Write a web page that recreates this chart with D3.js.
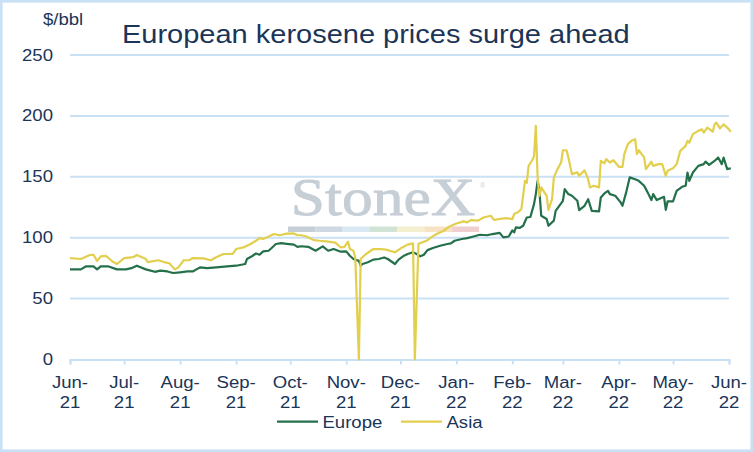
<!DOCTYPE html>
<html><head><meta charset="utf-8">
<script src="https://cdn.jsdelivr.net/npm/d3@7"></script>
<style>html,body{margin:0;padding:0;background:#fff;} svg{display:block;font-family:"Liberation Sans",Arial,sans-serif;}</style>
</head><body><svg id="c" width="753" height="452"></svg>
<script>
const titleText = "European kerosene prices surge ahead";
const unitText = "$/bbl";
const seriesNames = ["Europe", "Asia"];
const monthTicks = ["2021-06-01","2021-07-01","2021-08-01","2021-09-01","2021-10-01","2021-11-01","2021-12-01","2022-01-01","2022-02-01","2022-03-01","2022-04-01","2022-05-01","2022-06-01"];
const monthLabels = ["Jun-","Jul-","Aug-","Sep-","Oct-","Nov-","Dec-","Jan-","Feb-","Mar-","Apr-","May-","Jun-"];
const yearLabels = ["21","21","21","21","21","21","21","22","22","22","22","22","22"];
const yTicks = [0, 50, 100, 150, 200, 250];

const europeDates = ["2021-06-01","2021-06-07","2021-06-10","2021-06-14","2021-06-16","2021-06-18","2021-06-22","2021-06-27","2021-07-02","2021-07-05",
"2021-07-08","2021-07-13","2021-07-18","2021-07-21","2021-07-25","2021-07-28","2021-08-01","2021-08-05","2021-08-08","2021-08-10",
"2021-08-12","2021-08-16","2021-08-21","2021-08-27","2021-09-01","2021-09-06","2021-09-07","2021-09-10","2021-09-12","2021-09-14",
"2021-09-16","2021-09-19","2021-09-21","2021-09-23","2021-09-26","2021-09-29","2021-10-03","2021-10-05","2021-10-07","2021-10-11",
"2021-10-15","2021-10-19","2021-10-22","2021-10-25","2021-10-29","2021-11-01","2021-11-03","2021-11-05","2021-11-08","2021-11-09",
"2021-11-10","2021-11-13","2021-11-16","2021-11-19","2021-11-22","2021-11-24","2021-11-28","2021-11-30","2021-12-03","2021-12-05",
"2021-12-08","2021-12-10","2021-12-12","2021-12-14","2021-12-16","2021-12-19","2021-12-23","2021-12-27","2021-12-29","2021-12-31",
"2022-01-04","2022-01-07","2022-01-10","2022-01-14","2022-01-18","2022-01-21","2022-01-25","2022-01-27","2022-01-30","2022-02-01",
"2022-02-02","2022-02-03","2022-02-05","2022-02-07","2022-02-09","2022-02-11","2022-02-13","2022-02-14","2022-02-15","2022-02-16",
"2022-02-17","2022-02-20","2022-02-21","2022-02-24","2022-02-25","2022-02-27","2022-03-01","2022-03-02","2022-03-04","2022-03-06",
"2022-03-09","2022-03-10","2022-03-13","2022-03-15","2022-03-17","2022-03-21","2022-03-22","2022-03-24","2022-03-26","2022-03-27",
"2022-03-30","2022-04-02","2022-04-03","2022-04-05","2022-04-07","2022-04-10","2022-04-12","2022-04-15","2022-04-17","2022-04-19",
"2022-04-20","2022-04-22","2022-04-26","2022-04-27","2022-04-28","2022-05-01","2022-05-03","2022-05-06","2022-05-08","2022-05-09",
"2022-05-10","2022-05-12","2022-05-15","2022-05-18","2022-05-19","2022-05-21","2022-05-24","2022-05-26","2022-05-28","2022-05-29",
"2022-05-31","2022-06-02"];
const europeValues = [74,74,76.5,76.5,74,76.5,76.5,74,74,75,
77,74,72,73,72.3,71,71.6,72.3,72.3,74,
75.6,75,75.6,76.5,77,78.4,82.5,85,87,86,
88.8,89.3,92,94.8,95.6,95,94.3,92.5,93,92.5,
89.3,92.9,89.3,90.7,88.5,88.8,85.2,82.5,81,77,
78.4,79.8,82,82.5,83.8,82.5,78.4,82,85.2,86.6,
88,86.6,84.7,86,89.8,91.5,93.4,94.8,95.4,97.5,
98.9,99.7,100.8,102.4,102,103,104,100.3,101,106,
104.4,108.5,108,109.8,116.6,117,127.6,135.8,146.7,138.5,
118,115.3,109.8,114,122,126.2,130.3,139.9,135.8,134.4,
130.3,122.7,126.2,131.6,122,121.6,133,136.3,138.5,135.8,
134.4,129,126.2,137,149.5,148,146.7,142.6,137,130.9,
135.8,130.9,133.6,122.9,129.8,129.8,138.5,141.8,142.6,153.5,
146.7,153.5,159,160.4,162.5,159.8,163,165.8,160.4,165.8,
156.3,157];

const asiaDates = ["2021-06-01","2021-06-07","2021-06-12","2021-06-14","2021-06-16","2021-06-18","2021-06-21","2021-06-25","2021-06-27","2021-07-01",
"2021-07-06","2021-07-08","2021-07-13","2021-07-14","2021-07-20","2021-07-23","2021-07-26","2021-07-29","2021-07-31","2021-08-03",
"2021-08-06","2021-08-08","2021-08-14","2021-08-18","2021-08-21","2021-08-25","2021-08-30","2021-09-01","2021-09-05","2021-09-09",
"2021-09-12","2021-09-14","2021-09-16","2021-09-20","2021-09-22","2021-09-25","2021-09-29","2021-10-03","2021-10-05","2021-10-07",
"2021-10-10","2021-10-14","2021-10-17","2021-10-21","2021-10-26","2021-10-29","2021-10-31","2021-11-02","2021-11-03","2021-11-05",
"2021-11-06","2021-11-08","2021-11-09","2021-11-10","2021-11-12","2021-11-16","2021-11-20","2021-11-23","2021-11-28","2021-12-02",
"2021-12-05","2021-12-08","2021-12-09","2021-12-11","2021-12-13","2021-12-16","2021-12-18","2021-12-21","2021-12-25","2021-12-28",
"2022-01-01","2022-01-05","2022-01-07","2022-01-09","2022-01-13","2022-01-16","2022-01-20","2022-01-22","2022-01-25","2022-01-29",
"2022-02-01","2022-02-02","2022-02-04","2022-02-06","2022-02-08","2022-02-09","2022-02-10","2022-02-12","2022-02-13","2022-02-14",
"2022-02-15","2022-02-16","2022-02-17","2022-02-20","2022-02-21","2022-02-23","2022-02-24","2022-02-26","2022-02-28","2022-03-01",
"2022-03-03","2022-03-04","2022-03-06","2022-03-09","2022-03-10","2022-03-13","2022-03-15","2022-03-16","2022-03-18","2022-03-21",
"2022-03-22","2022-03-24","2022-03-25","2022-03-27","2022-03-29","2022-04-01","2022-04-03","2022-04-04","2022-04-06","2022-04-08",
"2022-04-10","2022-04-11","2022-04-12","2022-04-15","2022-04-16","2022-04-19","2022-04-20","2022-04-23","2022-04-25","2022-04-27",
"2022-04-28","2022-05-01","2022-05-03","2022-05-05","2022-05-08","2022-05-09","2022-05-10","2022-05-12","2022-05-15","2022-05-17",
"2022-05-18","2022-05-20","2022-05-23","2022-05-24","2022-05-25","2022-05-27","2022-05-29","2022-05-31","2022-06-02"];
const asiaValues = [83.3,82.5,85.8,86,81,84.6,85,80,78.4,83.3,
84,85.8,82.5,80,81.5,80,79,74,75.6,81.5,
81.5,83.3,83,81.5,84,86.6,86.6,90.7,92,94.8,
97.5,99.7,99,101.6,103,102,103.4,103.5,102,102,
101,98,97.5,97,96,92,92.5,96.7,90.7,89.3,
84,0,82.5,84,86.6,90.7,90.7,90.2,88,92,
94.3,95.3,0,95,96,98,100.3,103,105.7,109,
111.7,113.4,112.6,114.5,114,116.6,118,114.5,115.5,116,
115.3,119.4,120.8,123.5,146.7,145,159,163.6,167,191.8,
149.5,134.4,141.3,134.4,122.9,131.6,149.5,156.3,161.7,171.8,
171.8,166,152.2,153.6,150.8,155.3,148,141.3,142.6,141.3,
163,161,164.5,161.7,163.6,158.2,158.2,168.6,176.8,179.5,
180.9,168.6,171.8,166,156.3,162.5,159,160.4,160.4,150.8,
154.9,157,160.4,171.3,175.4,179.5,178,185,187.7,189,
186.3,190.4,187,193,194.5,189.8,193,190.4,187];

const parse = d3.timeParse("%Y-%m-%d");
const europe = europeDates.map((d, i) => ({date: parse(d), value: europeValues[i]}));
const asia = asiaDates.map((d, i) => ({date: parse(d), value: asiaValues[i]}));

const textColor = "#1a3558";
const gridColor = "#c9e1f5";
const colors = {Europe: "#24704b", Asia: "#e2cf4d"};
const SX = 1.16;

const svg = d3.select("#c");
svg.append("rect").attr("x", 1.3).attr("y", 1.3).attr("width", 750.4).attr("height", 449.4)
  .attr("fill", "#fff").attr("stroke", gridColor).attr("stroke-width", 2.6);

const x = d3.scaleTime().domain([parse(monthTicks[0]), parse(monthTicks[monthTicks.length - 1])]).range([70, 729]);
const y = d3.scaleLinear().domain([0, 250]).range([359.5, 55]);

function stretchedText(g, tx, ty, txt, size, anchor) {
  return g.append("text").attr("transform", `translate(${tx},${ty}) scale(${SX},1)`)
    .attr("text-anchor", anchor).attr("font-size", size).attr("fill", textColor).text(txt);
}

// gridlines
svg.append("g").selectAll("line").data(yTicks.filter(v => v > 0)).join("line")
  .attr("x1", 70).attr("x2", 729).attr("y1", d => y(d)).attr("y2", d => y(d))
  .attr("stroke", gridColor).attr("stroke-width", 2);

// y labels
const yl = svg.append("g");
yTicks.forEach(v => stretchedText(yl, 53, y(v) + 5.5, String(v), 16, "end"));

// unit + title
stretchedText(svg, 43, 24.5, unitText, 16, "start");
stretchedText(svg, 122, 43, titleText, 25, "start");

// watermark
const wm = svg.append("g");
stretchedText(wm, 383, 215, "StoneX", 53, "middle").attr("fill", "#c6ced6")
  .attr("stroke", "#c6ced6").attr("stroke-width", 0.8)
  .attr("font-family", "'Liberation Serif','DejaVu Serif',serif");
wm.append("text").attr("x", 480).attr("y", 188).attr("font-size", 7).attr("fill", "#c9d1d8").text("®");
const wmColors = ["#c5ced6", "#cdd8e3", "#dae8f4", "#d0e3d5", "#f3efcf", "#f7e2c4", "#f0cfd0"];
wm.selectAll("rect").data(wmColors).join("rect")
  .attr("x", (d, i) => 288 + i * 27.3).attr("y", 226.5).attr("width", 27.3).attr("height", 5.5).attr("fill", d => d);

// x axis
const xa = svg.append("g").attr("transform", "translate(0,359.5)")
  .call(d3.axisBottom(x).tickValues(monthTicks.map(parse)).tickSize(5).tickFormat(""));
xa.select(".domain").attr("stroke", gridColor).attr("stroke-width", 2);
xa.selectAll(".tick line").attr("stroke", gridColor).attr("stroke-width", 2);
const xl = svg.append("g");
monthTicks.forEach((m, i) => {
  const px = x(parse(m));
  stretchedText(xl, px, 388, monthLabels[i], 16, "middle");
  stretchedText(xl, px, 408, yearLabels[i], 16, "middle");
});

// lines
const line = d3.line().x(d => x(d.date)).y(d => y(d.value));
[["Europe", europe], ["Asia", asia]].forEach(([name, data]) => {
  svg.append("path").datum(data).attr("d", line).attr("fill", "none")
    .attr("stroke", colors[name]).attr("stroke-width", 2.2).attr("stroke-linejoin", "round");
});

// legend
const lg = svg.append("g");
[["Europe", 277], ["Asia", 401]].forEach(([name, lx]) => {
  lg.append("line").attr("x1", lx).attr("x2", lx + 41).attr("y1", 421.7).attr("y2", 421.7)
    .attr("stroke", colors[name]).attr("stroke-width", 2.2);
  stretchedText(lg, lx + 45.5, 427.5, name, 16, "start");
});
</script></body></html>
